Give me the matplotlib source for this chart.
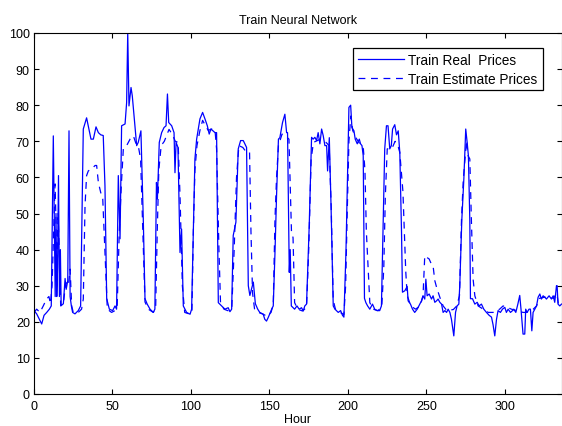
import matplotlib
matplotlib.use('Agg')
import matplotlib.pyplot as plt

plt.rcParams['font.family'] = ['Liberation Sans', 'DejaVu Sans']

# hour / price pairs
real_hours = [0, 1.7, 3.4, 4.9, 6.4, 8.1, 9.8, 11, 12.3, 13, 13.5, 14, 14.5, 15, 15.6, 16.2, 16.8, 17.3,
              18.7, 19.8, 20.5, 21.5, 22.3, 23, 23.8, 24.6, 26.1, 28.2, 29.7, 31.4, 33.5, 35, 36.3, 37.8,
              39.5, 41, 42.5, 44.1, 45.2, 46.3, 48, 50.1, 51.6, 52.6, 53.7, 54.8, 55.8, 58, 59, 59.7,
              60.5, 61.8, 62.6, 64.3, 65.4, 66.4, 68.1, 69.6, 70.7, 72.1, 73.9, 76, 77, 78, 78.6, 79.8,
              81.3, 82.8, 84.1, 85, 85.8, 87.7, 89.2, 89.8, 90.5, 91.7, 93, 94, 95.1, 97.2, 99.4, 100.4,
              102.5, 103.6, 105.7, 107.4, 108.9, 110.4, 111.6, 112.7, 115.3, 116.3, 117.4, 119.5, 121.6,
              123.7, 124.8, 125.9, 126.9, 128.6, 130.1, 131.6, 133.3, 135.4, 136.5, 137.5, 139.7, 141,
              142.5, 143.8, 146, 147, 148.1, 149.2, 151.4, 152.4, 153.5, 154.5, 155.7, 156.6, 158.3,
              159.8, 160.9, 161.5, 162.6, 163.2, 163.9, 166, 167.5, 168.9, 170.4, 171.5, 172.5, 173.6,
              175.3, 176.8, 177.8, 178.9, 180, 181, 182.1, 183.2, 184.2, 185.3, 186.4, 187, 188.1, 189.2,
              190.6, 191.7, 193.8, 195.3, 196.5, 197.4, 198.7, 199.6, 200.6, 201.7, 202.5, 203.8, 204.6,
              205.9, 207.2, 208, 208.9, 209.7, 210.5, 211.4, 212.5, 213.9, 215.6, 217, 218.5, 220.2,
              221.3, 222.3, 223.4, 224.5, 225.5, 226.6, 227.6, 228.4, 229.8, 230.9, 232, 233, 234.1,
              234.7, 236.2, 237.7, 238.3, 239.8, 241.1, 242.5, 244.1, 245.7, 246.8, 247.8, 248.9, 249.6,
              250.4, 251.7, 253.2, 254.2, 255.3, 256.4, 257.4, 258.5, 259.6, 260.6, 261.7, 262.8, 263.8,
              264.9, 265.9, 267.4, 268.5, 269.5, 270.6, 271.2, 272.5, 273.8, 275, 275.9, 276.7, 277.6,
              278, 279.3, 280.8, 282.3, 283.5, 285, 286.5, 288.2, 289.9, 291.4, 292.4, 293.5, 294.6,
              295.6, 297.1, 298.4, 299.9, 300.9, 302, 303.5, 304.8, 305.6, 306.9, 308.2, 309.4, 310.2,
              311.5, 312.6, 313.2, 314.1, 315.3, 316.2, 317.1, 317.9, 319, 320.1, 321.1, 322.2, 323.2,
              324.3, 325.4, 326.4, 328.1, 329.6, 330.7, 331.7, 332.8, 333.2, 333.8, 334.9, 336]
real_prices = [23.1, 22.2, 20.7, 19.4, 21.8, 22.6, 23.5, 24.4, 71.5, 45, 27, 50, 27, 35, 60.5, 27, 40, 24.5,
               25, 32, 29, 31.4, 72.9, 27, 24.4, 22.6, 22.2, 23.1, 24.4, 73.4, 76.5, 73.4, 70.6, 70.6,
               74, 72.4, 71.8, 71.6, 57.7, 26.4, 23.5, 23.1, 24.4, 23.5, 60.5, 43, 74.3, 74.8, 80.7, 100,
               79.8, 84.9, 82.6, 74.3, 68.8, 69.7, 72.9, 48.5, 26.4, 24.9, 23.5, 22.6, 23.5, 58.6, 54, 69.7,
               72.4, 73.8, 74.3, 83.1, 75.2, 74.3, 72.4, 61.3, 69.7, 68.3, 39.2, 45.7, 24.4, 22.6, 22.1, 23.5,
               65.1, 70.6, 76.2, 78, 76.2, 74.3, 72, 73.4, 72.4, 72.4, 25.3, 24.4, 23.5,
               23.9, 22.8, 23.5, 43.9, 47.6, 67.9, 70.2, 70.2, 68.3, 30, 27.3, 31, 25,
               23.5, 22.6, 22.1, 20.7, 20.2, 21.2, 23.5, 24.4, 39.2, 55, 70.6, 71, 75.2,
               77.5, 72.4, 72.4, 33.7, 40, 24.4, 23.5, 24.4, 23.5, 23.9, 23, 24.4, 24.9,
               46.6, 71.1, 70.6, 71.1, 70.2, 72.4, 69.3, 73.4, 71.6, 68.8, 68.8, 61.8, 71, 52.2,
               24.4, 23.5, 22.6, 23.1, 21.8, 21.3, 39.2, 58.6, 79.4, 80, 73.8, 72.9, 70.6,
               69.3, 70.6, 69.3, 68.8, 66, 26.5, 25.3, 24.4, 23.5, 24.9, 23.5, 23.1, 23.1,
               24.4, 44.8, 67.9, 74.3, 74.3, 67.9, 68.8, 73.4, 74.6, 71.8, 72.9, 66.9, 44.8,
               28.2, 28.6, 29.8, 25.8, 24.9, 23.5, 22.6, 23.5, 24.9, 25.8, 27.2, 26.3, 31.8,
               27.2, 27.7, 26.3, 27.2, 25.4, 25.8, 26.3, 25.4, 24.9, 22.6, 23.1, 22.6, 23.5,
               22.6, 20.7, 16.1, 22.6, 24.4, 24.9, 30, 48.2, 59.6, 73.4, 69.7, 66, 48,
               26.4, 26.4, 24.9, 25.4, 24.4, 24.9, 23.5, 22.6, 21.8, 21.3, 19.2, 16.1, 20.7,
               23.1, 22.6, 23.5, 24, 22.6, 23.5, 22.6, 23.1, 23.5, 22.6, 24.9, 27.3, 23.5,
               16.6, 16.6, 23.5, 22.6, 23.5, 23.5, 17.5, 22.6, 23.5, 24.4, 26.8, 27.7, 26.3,
               27.2, 26.8, 26.3, 27.2, 26.3, 27.2, 25.4, 30, 30, 24.9, 24.4, 24.9]

est_hours = [0, 1.7, 3.8, 5.9, 8, 9.5, 10.5, 11.5, 12.7, 13.4, 14, 14.4, 15.3, 16.2, 17, 18.7, 20.2, 21.9,
             23, 24, 25, 28.2, 30.3, 31.4, 32.5, 33.5, 34.6, 36.3, 37.8, 38.9, 39.9, 41, 42.5, 43.8,
             45.2, 46.7, 49.4, 51.6, 53, 54.3, 55.6, 56.9, 59, 61.2, 63.3, 65, 66.4, 67.9, 69.1, 70.7,
             72.8, 76, 77.5, 78.5, 79.5, 81, 83, 86, 88, 90, 91.8, 93, 94.5, 96, 99.4, 100.6, 101.5,
             102.5, 103.8, 105.7, 107.4, 109, 111, 113, 115.3, 116.3, 117.8, 118.8, 121, 124, 126,
             127.5, 129, 130.5, 133, 135.4, 137.3, 138.2, 139.2, 140.5, 143, 146, 148.5, 151, 152.4,
             153.5, 154.5, 155.7, 158, 160, 162.4, 164, 165, 166, 168, 171, 173.6, 175, 176.5, 178,
             182, 186, 188, 189.3, 190.6, 192, 195, 197.4, 198.5, 199.5, 200.6, 201.8, 203, 205, 208,
             209.8, 210.8, 211.7, 213.9, 216, 219, 221.5, 222.8, 223.8, 225, 228, 230, 232, 233, 235,
             236.8, 237.7, 240, 243, 246, 247.8, 248.9, 250, 251.7, 253.2, 254.2, 255.3, 256.4, 258.5,
             260.6, 263, 267.1, 269.3, 271, 272.3, 273.4, 275.5, 276.5, 277.6, 278.6, 279.7, 280.8,
             282.9, 286.1, 289.3, 292.4, 296.6, 298.8, 302, 304.1, 307.3, 311.5, 313.7, 315.8, 318,
             320.1, 322, 325, 328, 331, 333, 334, 336]
est_prices = [22.6, 23.5, 22.6, 24.4, 26.3, 27, 25, 30, 48.4, 58.2, 48, 29, 50.3, 38, 24.4, 24.9, 30.9, 30,
              34.6, 24.4, 22.6, 22.6, 23.5, 26.3, 52.2, 60.5, 61.8, 62.3, 62.8, 63.3, 63.3, 58.6, 55.8, 54,
              39.2, 23.5, 22.6, 23.1, 24.4, 44.8, 57.7, 67.9, 68.8, 70.6, 71.5, 69.3, 68.8, 65.1, 48.5, 25.5,
              23.5, 22.6, 24, 45, 62, 68.8, 70, 73.3, 72, 70, 69.7, 55, 30, 22.6, 22.1, 23, 45,
              62, 68.8, 73, 75.8, 74.5, 73, 73.4, 73, 67.9, 40, 25.3, 23.5, 23, 24,
              40, 60, 68.8, 68.3, 66.9, 66.9, 45, 28, 23.5, 22.6, 22.1, 21.5, 22.6, 24.9,
              48.5, 60, 68.8, 72, 71.5, 70.6, 45, 43.3, 25.3, 23.5, 23, 24, 40, 65, 69.7,
              70.5, 69.7, 68.8, 52, 26, 23.5, 22.6, 22, 30, 50, 70, 77, 73, 71, 69,
              67.9, 62, 45, 25.3, 23.5, 23.1, 24, 35, 55, 67.9, 68, 70, 68.5, 66.9, 56,
              33.9, 27.3, 24.4, 23.5, 24.4, 27.2, 38.3, 37.9, 37.4, 35.9, 35.5, 31.4, 29.6, 26.8,
              24.4, 23.1, 23.4, 24.4, 27.2, 48.2, 59.1, 70.2, 66, 65.1, 48.2, 31.8, 27.2,
              24.4, 23.5, 22.6, 22.6, 23.5, 24.4, 23.9, 23.5, 23.1, 22.6, 22.6, 23.1, 23.5,
              24.4, 26.5, 26.8, 26.8, 26.5, 28, 25, 24.4]

x_ticks = [0, 50, 100, 150, 200, 250, 300]
y_ticks = [0, 10, 20, 30, 40, 50, 60, 70, 80, 90, 100]

fig = plt.figure(figsize=(5.62, 4.27), dpi=100)
ax = fig.add_axes([34 / 562, 32 / 427, 527.5 / 562, 361 / 427])

ax.plot(real_hours, real_prices, color='#0000ff', lw=0.9, label='Train Real  Prices')
ax.plot(est_hours, est_prices, color='#0000ff', lw=0.9, dashes=(5.5, 4.5), label='Train Estimate Prices')

ax.set_xlim(0, 336)
ax.set_ylim(0, 100)
ax.set_xticks(x_ticks)
ax.set_yticks(y_ticks)
ax.tick_params(direction='in', length=3.6, width=0.8, top=True, right=True, labelsize=9,
               colors='black')
ax.tick_params(axis='x', pad=4.5)
ax.tick_params(axis='y', pad=3)
for s in ax.spines.values():
    s.set_linewidth(0.8)

ax.set_title('Train Neural Network', fontsize=9, pad=7.5)
ax.set_xlabel('Hour', fontsize=9, labelpad=0.5)

leg = ax.legend(loc='upper right', bbox_to_anchor=(0.964, 0.958), fontsize=9.8, fancybox=False,
                framealpha=1, edgecolor='black', handlelength=3.4, handletextpad=0.3,
                labelspacing=0.35, borderpad=0.35, borderaxespad=0)
leg.get_frame().set_linewidth(0.9)

fig.savefig('out.png', dpi=100)
